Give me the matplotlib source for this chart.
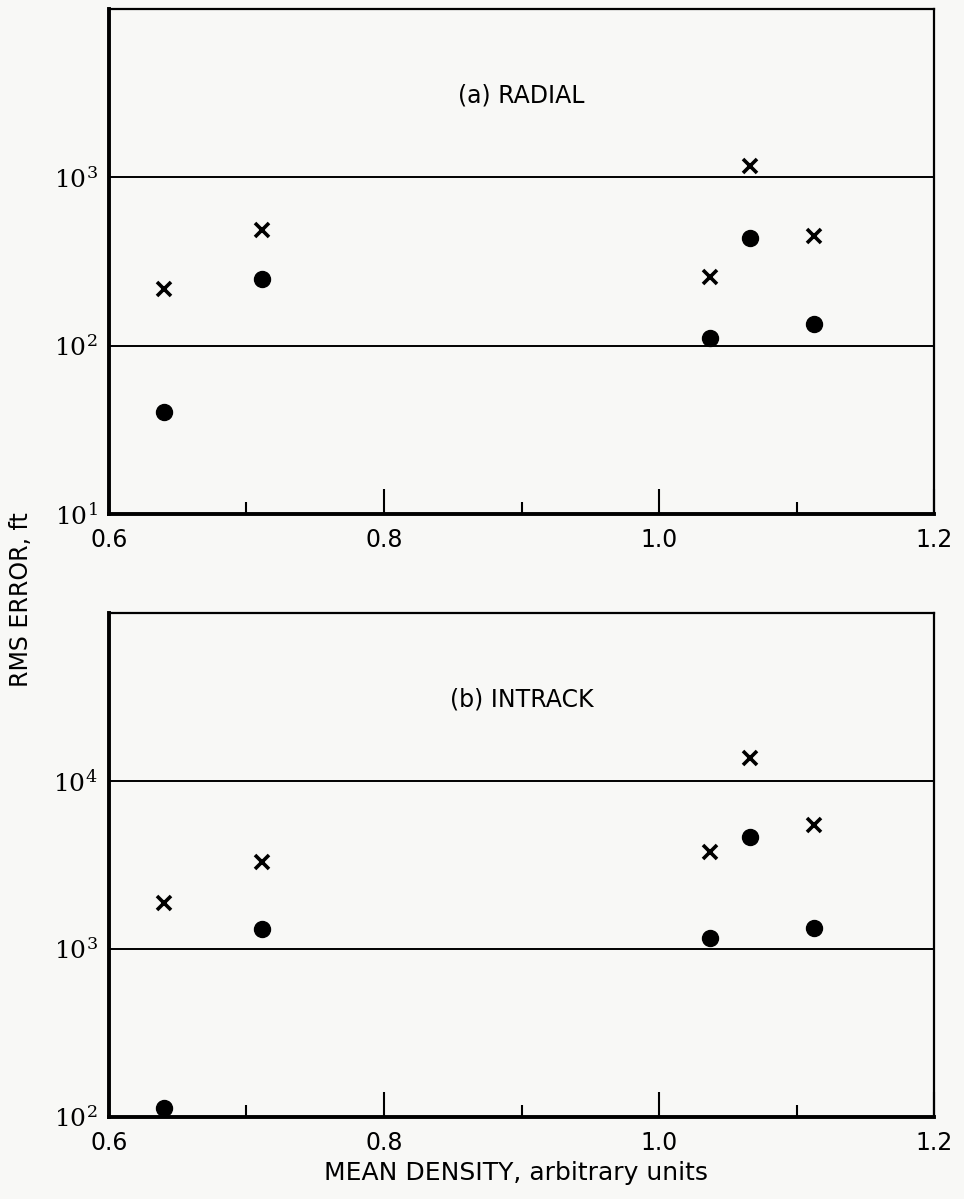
import matplotlib
matplotlib.use("Agg")
import matplotlib.pyplot as plt
from matplotlib.ticker import FixedLocator, NullFormatter, NullLocator

plt.rcParams['font.family'] = ['DejaVu Sans']
plt.rcParams['mathtext.fontset'] = 'dejavuserif'

# Mean density of each run
density = [0.64, 0.711, 1.037, 1.066, 1.113]

# (a) radial RMS error, ft
radial_x = [217, 484, 257, 1173, 450]
radial_dot = [40.4, 250, 111, 438, 135]

# (b) intrack RMS error, ft
intrack_x = [1870, 3275, 3785, 13750, 5500]
intrack_dot = [113, 1315, 1160, 4635, 1330]

xticks_major = [0.6, 0.8, 1.0, 1.2]
xticks_minor = [0.7, 0.9, 1.1]

paper = '#f8f8f6'
fig = plt.figure(figsize=(9.64, 11.99), dpi=100, facecolor=paper)
ax_a = fig.add_axes([0.113, 0.5713, 0.856, 0.4212])
ax_b = fig.add_axes([0.113, 0.0684, 0.856, 0.4203])

panels = [
    (ax_a, radial_x, radial_dot, (1e1, 1e4), [1e1, 1e2, 1e3], [1e2, 1e3], '(a) RADIAL'),
    (ax_b, intrack_x, intrack_dot, (1e2, 1e5), [1e2, 1e3, 1e4], [1e3, 1e4], '(b) INTRACK'),
]

for ax, xs, dots, ylim, yt, grid, title in panels:
    ax.set_facecolor(paper)
    ax.set_yscale('log')
    ax.set_xlim(0.6, 1.2)
    ax.set_ylim(*ylim)

    for g in grid:
        ax.axhline(g, color='black', lw=1.4, zorder=1)

    ax.plot(density, xs, linestyle='none', marker='x', ms=9.5, mew=2.6,
            color='black', zorder=3, clip_on=False)
    ax.plot(density, dots, linestyle='none', marker='o', ms=11.5,
            color='black', zorder=3, clip_on=False)

    ax.text(0.5, 0.828, title, transform=ax.transAxes, ha='center',
            va='center', fontsize=17)

    # x ticks point inward from the bottom only
    ax.xaxis.set_major_locator(FixedLocator(xticks_major))
    ax.xaxis.set_minor_locator(FixedLocator(xticks_minor))
    ax.set_xticklabels(['0.6', '0.8', '1.0', '1.2'])
    ax.xaxis.set_minor_formatter(NullFormatter())
    ax.tick_params(axis='x', which='major', direction='in', length=18,
                   width=1.5, labelsize=17, pad=10)
    ax.tick_params(axis='x', which='minor', direction='in', length=9,
                   width=1.5)

    ax.yaxis.set_major_locator(FixedLocator(yt))
    ax.yaxis.set_minor_locator(NullLocator())
    ax.set_yticklabels([f'$10^{{{len(str(int(v))) - 1}}}$' for v in yt])
    ax.tick_params(axis='y', which='major', length=0, labelsize=18, pad=8)

    for side in ('left', 'bottom'):
        ax.spines[side].set_linewidth(2.8)
    for side in ('top', 'right'):
        ax.spines[side].set_linewidth(1.6)

fig.text(0.022, 0.5, 'RMS ERROR, ft', rotation=90, ha='center', va='center',
         fontsize=17)
fig.text(0.535, 0.022, 'MEAN DENSITY, arbitrary units', ha='center',
         va='center', fontsize=18)

fig.savefig('out.png', dpi=100, facecolor=paper)
